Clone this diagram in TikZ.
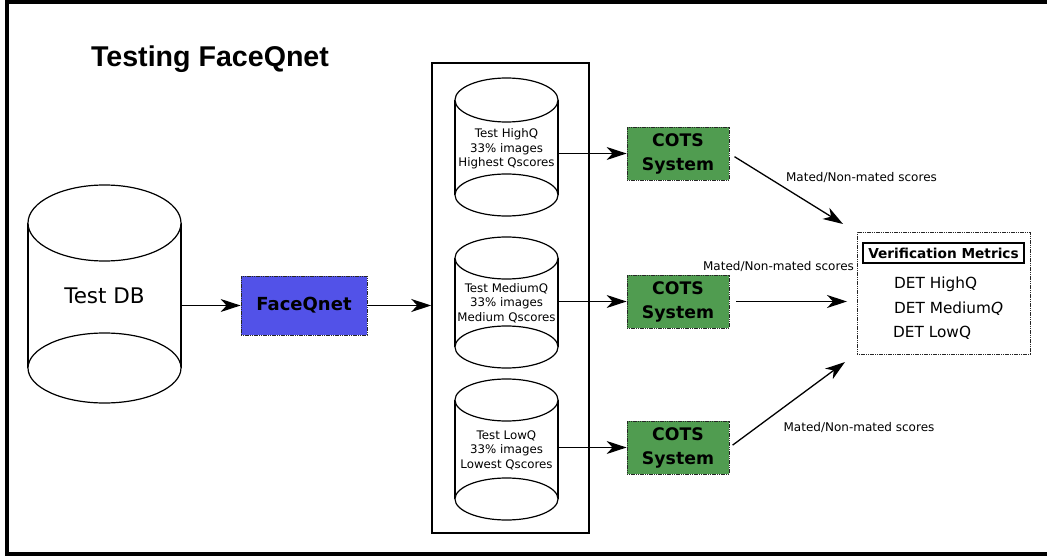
\documentclass[tikz,border=0pt]{standalone}
\usepackage{fontspec}
\setmainfont{DejaVu Sans}
\newfontfamily\titlefont{Liberation Sans}
\usetikzlibrary{arrows.meta}
\definecolor{fqblue}{HTML}{5252E8}
\definecolor{cotsgreen}{HTML}{509C50}
\newcommand\drawcyl[6]{%
  \draw[cylline] ({#1-#2},#3) -- ({#1-#2},#5) ({#1+#2},#3) -- ({#1+#2},#5);
  \draw[cylline] (#1,#3) ellipse[x radius=#2pt, y radius=#4pt];
  \draw[cylline] (#1,#5) ellipse[x radius=#2pt, y radius=#6pt];
}
\begin{document}
\begin{tikzpicture}[x=1pt,y=-1pt,
  cylline/.style={line width=1.2pt, fill=white},
  arr/.style={line width=1.3pt,-{Stealth[length=20pt,width=13pt,inset=6pt]}},
  holder/.style={inner sep=0pt, outer sep=0pt, align=center},
  smalltxt/.style={font=\fontsize{11.8}{14.5}\selectfont},
  dotborder/.style={draw=black!85, dash pattern=on 1.2pt off 0.6pt, line width=0.8pt},
  procbox/.style={dotborder, inner sep=0pt, align=center, font=\bfseries\fontsize{17.3}{24}\selectfont},
  lbl/.style={inner sep=0pt, font=\fontsize{12}{14}\selectfont},
  det/.style={inner sep=0pt, anchor=west, font=\fontsize{15.3}{18}\selectfont}
]
\useasboundingbox (0,0) rectangle (1047,556);
% outer frame
\draw[line width=4pt] (1047,2) -- (7,2) -- (7,554) -- (1047,554);
% title
\node[inner sep=0pt, anchor=base] (title) at (210,67) {\titlefont\bfseries\fontsize{28.6}{34}\selectfont Testing FaceQnet};

% Test DB cylinder
\drawcyl{104.5}{76.5}{223}{38}{368}{35}
\node[holder, minimum width=153pt, minimum height=222pt, font=\fontsize{21.5}{26}\selectfont] (db) at (104.5,296) {Test DB};

% FaceQnet
\node[procbox, fill=fqblue, minimum width=126pt, minimum height=59pt, font=\bfseries\fontsize{18}{22}\selectfont] (fq) at (304,305.5) {FaceQnet};

% column container
\node[draw, line width=1.5pt, minimum width=157pt, minimum height=470pt, inner sep=0pt] (col) at (510.5,298) {};

% cylinders in column
\drawcyl{506.5}{51.5}{100}{22}{195}{21}
\node[holder, smalltxt, minimum width=103pt, minimum height=142pt] (hq) at (506.5,149) {Test HighQ\\33\% images\\Highest Qscores};
\drawcyl{506.5}{51.5}{258}{21}{347}{21}
\node[holder, smalltxt, minimum width=103pt, minimum height=132pt] (mq) at (506.5,303) {Test MediumQ\\33\% images\\Medium Qscores};
\drawcyl{506.5}{51.5}{400}{21}{499}{21}
\node[holder, smalltxt, minimum width=103pt, minimum height=142pt] (lq) at (506.5,450) {Test LowQ\\33\% images\\Lowest Qscores};

% COTS systems
\node[procbox, fill=cotsgreen, minimum width=102pt, minimum height=53pt] (c1) at (678,153.5) {COTS\\System};
\node[procbox, fill=cotsgreen, minimum width=102pt, minimum height=53pt] (c2) at (678,301.5) {COTS\\System};
\node[procbox, fill=cotsgreen, minimum width=102pt, minimum height=53pt] (c3) at (678,447.5) {COTS\\System};

% verification metrics
\node[dotborder, minimum width=173pt, minimum height=122pt, inner sep=0pt] (vm) at (943.5,293) {};
\node[draw, line width=1.2pt, minimum width=161pt, minimum height=20pt, inner sep=0pt, font=\bfseries\fontsize{13.7}{16}\selectfont] (vmt) at (943.5,253) {Verification Metrics};
\node[det] (d1) at (894,284) {DET HighQ};
\node[det] (d2) at (894,308.5) {DET Medium\textit{Q}};
\node[det] (d3) at (893,333) {DET LowQ};

% arrow end points
\coordinate (a1) at (843,224);
\coordinate (a2) at (847,301.5);
\coordinate (a3) at (845,362);

% connectors
\draw[arr] (db.east |- fq.west) -- (fq.west);
\draw[arr] (fq.east) -- (fq.east -| col.west);
\draw[arr] (hq.east |- c1.west) -- (c1.west);
\draw[arr] (mq.east |- c2.west) -- (c2.west);
\draw[arr] (lq.east |- c3.west) -- (c3.west);
\draw[arr, shorten <=6pt] (c1.east) -- (a1);
\draw[arr, shorten <=7pt] (c2.east) -- (a2);
\draw[arr, shorten <=4pt] (c3.east) -- (a3);

% labels
\node[lbl] (l1) at (861.5,177) {Mated/Non-mated scores};
\node[lbl] (l2) at (778.5,266) {Mated/Non-mated scores};
\node[lbl] (l3) at (859,427) {Mated/Non-mated scores};
\end{tikzpicture}
\end{document}
